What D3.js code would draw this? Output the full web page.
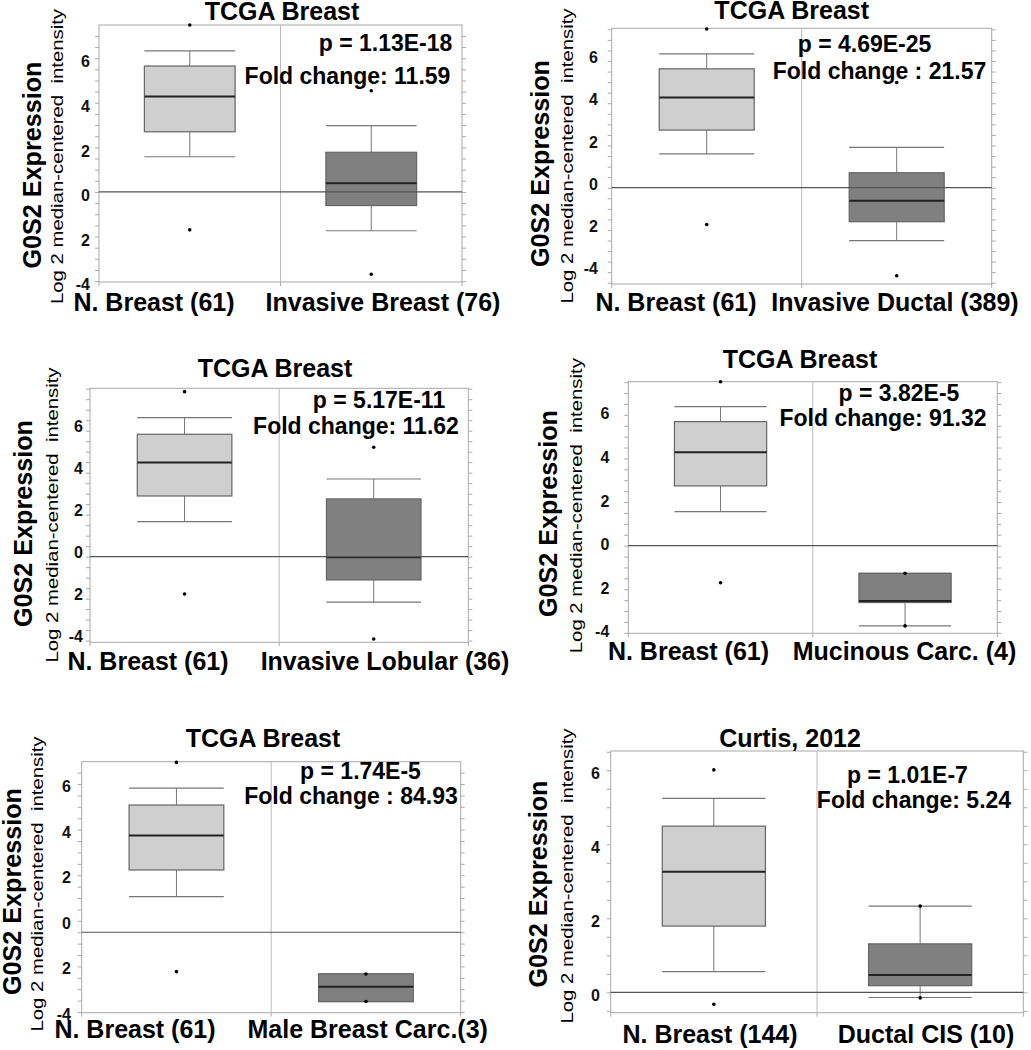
<!DOCTYPE html>
<html>
<head>
<meta charset="utf-8">
<script src="https://cdn.jsdelivr.net/npm/d3@7"></script>
<style>
  body { margin: 0; background: #fff; }
  svg { display: block; font-family: "Liberation Sans", Arial, sans-serif; }
</style>
</head>
<body>
<div id="chart"></div>
<script>
// data (log2 median-centered values)
var titles = ["TCGA Breast", "TCGA Breast", "TCGA Breast", "TCGA Breast", "TCGA Breast", "Curtis, 2012"];
var pTexts = ["p = 1.13E-18", "p = 4.69E-25", "p = 5.17E-11", "p = 3.82E-5", "p = 1.74E-5", "p = 1.01E-7"];
var foldTexts = ["Fold change: 11.59", "Fold change : 21.57", "Fold change: 11.62",
                 "Fold change: 91.32", "Fold change : 84.93", "Fold change: 5.24"];
var groupLabels = [
  ["N. Breast (61)", "Invasive Breast (76)"],
  ["N. Breast (61)", "Invasive Ductal (389)"],
  ["N. Breast (61)", "Invasive Lobular (36)"],
  ["N. Breast (61)", "Mucinous Carc. (4)"],
  ["N. Breast (61)", "Male Breast Carc.(3)"],
  ["N. Breast (144)", "Ductal CIS (10)"]
];
// [lower whisker, q1, median, q3, upper whisker]
var normalStats = [
  [1.58, 2.70, 4.28, 5.65, 6.33],
  [1.60, 2.73, 4.27, 5.63, 6.34],
  [1.67, 2.89, 4.48, 5.83, 6.62],
  [1.56, 2.74, 4.28, 5.69, 6.38],
  [1.56, 2.73, 4.24, 5.58, 6.32],
  [0.56, 1.79, 3.26, 4.49, 5.24]
];
var tumorStats = [
  [-1.74, -0.61, 0.39, 1.78, 2.98],
  [-2.51, -1.61, -0.62, 0.71, 1.91],
  [-2.17, -1.11, -0.03, 2.75, 3.70],
  [-3.68, -2.61, -2.54, -1.27, -1.27],
  [-3.04, -3.04, -2.39, -1.83, -1.83],
  [-0.14, 0.18, 0.47, 1.31, 2.33]
];
var normalOutliers = [[7.49, -1.70], [7.52, -1.74], [7.86, -1.78], [7.52, -1.70], [7.45, -1.73], [6.01, -0.32]];
var tumorOutliers = [[4.54, -3.69], [4.98, -4.17], [5.21, -3.92], [-1.27, -3.68], [-1.83, -3.04], [2.33, -0.15]];
var yDomains = [[-4.04, 7.49], [-4.56, 7.55], [-4.08, 8.02], [-4.02, 7.52], [-3.53, 7.48], [-0.55, 6.52]];
var tcgaTickValues = [6, 4, 2, 0, -2, -4];
var tcgaTickLabels = ["6", "4", "2", "0", "2", "-4"];
var curtisTickValues = [6, 4, 2, 0];
var curtisTickLabels = ["6", "4", "2", "0"];

// layout of each panel on the page
var panels = [
  {x0: 99, x1: 462, y0: 25, y1: 282, pad: 9, labelDy: 3.6,
   title: [282, 19.5], p: [385.5, 51], fold: [347.5, 84], yTitle: [32, 165], ySub: [57, 156.5], xLab: [[154, 311], [383, 311]]},
  {x0: 611.7, x1: 991.7, y0: 28.3, y1: 284, pad: 13.7, labelDy: -3.5,
   title: [791.7, 18.5], p: [864.5, 52], fold: [879.5, 79], yTitle: [540, 163.5], ySub: [567, 156], xLab: [[676, 311], [895, 311]]},
  {x0: 90, x1: 468.3, y0: 388.3, y1: 642.3, pad: 7, labelDy: -4,
   title: [275, 376.7], p: [379, 408], fold: [356, 434], yTitle: [23.3, 523.5], ySub: [51.7, 515], xLab: [[148, 670], [385, 670]]},
  {x0: 628.3, x1: 997.3, y0: 381.7, y1: 633.3, pad: 19, labelDy: -1,
   title: [800, 368.3], p: [899, 401], fold: [883, 425.5], yTitle: [548, 513.5], ySub: [576, 505.7], xLab: [[688.5, 660], [904.5, 660]]},
  {x0: 81.7, x1: 460.7, y0: 761.7, y1: 1012.7, pad: 10.7, labelDy: -9,
   title: [263, 746.7], p: [360.5, 779], fold: [351, 804], yTitle: [12.5, 891.5], ySub: [37, 884], xLab: [[135, 1038], [367.7, 1038]]},
  {x0: 610.7, x1: 1023.3, y0: 751, y1: 1012.7, pad: 10.7, labelDy: 3,
   title: [790, 746.7], p: [907.5, 783], fold: [914, 808], yTitle: [538, 884], ySub: [566.7, 876], xLab: [[710, 1043], [926, 1043]]}
];

var fills = ["#cfcfcf", "#808080"];

var svg = d3.select("#chart")
  .append("svg")
    .attr("width", 1031)
    .attr("height", 1050);

panels.forEach(function(pn, i) {
  var g = svg.append("g");

  var x = d3.scaleBand()
    .domain(groupLabels[i])
    .range([pn.x0, pn.x1]);
  var y = d3.scaleLinear()
    .domain(yDomains[i])
    .range([pn.y1, pn.y0]);

  var dom = yDomains[i];
  var minor = d3.range(Math.ceil(dom[0] * 2) / 2, dom[1] + 0.001, 0.5);

  // minor ticks left / right
  var left = g.append("g")
    .attr("transform", "translate(" + pn.x0 + ",0)")
    .call(d3.axisLeft(y).tickValues(minor).tickSize(4).tickFormat(""));
  var right = g.append("g")
    .attr("transform", "translate(" + pn.x1 + ",0)")
    .call(d3.axisRight(y).tickValues(minor).tickSize(4).tickFormat(""));
  [left, right].forEach(function(a) {
    a.select(".domain").remove();
    a.selectAll("line").attr("stroke", "#aaa");
  });

  // tick labels
  var tv = i === 5 ? curtisTickValues : tcgaTickValues;
  var tl = i === 5 ? curtisTickLabels : tcgaTickLabels;
  var lab = g.append("g")
    .attr("transform", "translate(" + (pn.x0 - pn.pad) + "," + pn.labelDy + ")")
    .call(d3.axisLeft(y).tickValues(tv).tickSize(0).tickPadding(0)
      .tickFormat(function(d) { return tl[tv.indexOf(d)]; }));
  lab.select(".domain").remove();
  lab.attr("font-size", null).attr("font-family", null);
  lab.selectAll("text")
    .style("font-size", "16px")
    .style("font-weight", "bold")
    .attr("fill", "#111");

  // bottom ticks at band edges
  var edges = [pn.x0, (pn.x0 + pn.x1) / 2, pn.x1];
  g.selectAll(".btick")
    .data(edges)
    .enter()
    .append("line")
      .attr("x1", function(d) { return d; })
      .attr("x2", function(d) { return d; })
      .attr("y1", pn.y1)
      .attr("y2", pn.y1 + 4)
      .attr("stroke", "#aaa");

  // frame
  g.append("rect")
    .attr("x", pn.x0)
    .attr("y", pn.y0)
    .attr("width", pn.x1 - pn.x0)
    .attr("height", pn.y1 - pn.y0)
    .attr("fill", "none")
    .attr("stroke", "#a8a8a8")
    .attr("stroke-width", 1);

  // divider between groups
  g.append("line")
    .attr("x1", (pn.x0 + pn.x1) / 2)
    .attr("x2", (pn.x0 + pn.x1) / 2)
    .attr("y1", pn.y0)
    .attr("y2", pn.y1)
    .attr("stroke", "#bbb");

  // boxes
  var stats = [normalStats[i], tumorStats[i]];
  var outs = [normalOutliers[i], tumorOutliers[i]];
  var bw = x.bandwidth() / 2;

  stats.forEach(function(s, j) {
    var cx = x(groupLabels[i][j]) + x.bandwidth() / 2;
    var bx = cx - bw / 2;
    // whisker stems
    g.append("line")
      .attr("x1", cx).attr("x2", cx)
      .attr("y1", y(s[4])).attr("y2", y(s[3]))
      .attr("stroke", "#777");
    g.append("line")
      .attr("x1", cx).attr("x2", cx)
      .attr("y1", y(s[1])).attr("y2", y(s[0]))
      .attr("stroke", "#777");
    // caps
    g.selectAll(".cap" + j)
      .data([s[0], s[4]])
      .enter()
      .append("line")
        .attr("x1", bx).attr("x2", bx + bw)
        .attr("y1", function(d) { return y(d); })
        .attr("y2", function(d) { return y(d); })
        .attr("stroke", "#777")
        .attr("stroke-width", 1.2);
    g.append("rect")
      .attr("x", bx)
      .attr("y", y(s[3]))
      .attr("width", bw)
      .attr("height", y(s[1]) - y(s[3]))
      .attr("fill", fills[j])
      .attr("stroke", "#666")
      .attr("stroke-width", 1.2);
    g.append("line")
      .attr("x1", bx).attr("x2", bx + bw)
      .attr("y1", y(s[2])).attr("y2", y(s[2]))
      .attr("stroke", "#222")
      .attr("stroke-width", 2);
    g.selectAll(".dot" + j)
      .data(outs[j])
      .enter()
      .append("circle")
        .attr("cx", cx)
        .attr("cy", function(d) { return y(d); })
        .attr("r", 1.8)
        .attr("fill", "#000");
  });

  // zero line
  g.append("line")
    .attr("x1", pn.x0)
    .attr("x2", pn.x1)
    .attr("y1", y(0))
    .attr("y2", y(0))
    .attr("stroke", "#555")
    .attr("stroke-width", 1.2);

  // title
  g.append("text")
    .attr("x", pn.title[0])
    .attr("y", pn.title[1])
    .attr("text-anchor", "middle")
    .style("font-size", "25px")
    .style("font-weight", "bold")
    .text(titles[i]);

  // p value and fold change
  g.append("text")
    .attr("x", pn.p[0])
    .attr("y", pn.p[1])
    .attr("text-anchor", "middle")
    .style("font-size", "23px")
    .style("font-weight", "bold")
    .text(pTexts[i]);
  g.append("text")
    .attr("x", pn.fold[0])
    .attr("y", pn.fold[1])
    .attr("text-anchor", "middle")
    .style("font-size", "23px")
    .style("font-weight", "bold")
    .text(foldTexts[i]);

  // y axis titles
  g.append("text")
    .attr("transform", "translate(" + pn.yTitle[0] + "," + pn.yTitle[1] + ") rotate(-90)")
    .attr("dy", "0.35em")
    .attr("text-anchor", "middle")
    .attr("textLength", 207)
    .attr("lengthAdjust", "spacingAndGlyphs")
    .style("font-size", "25px")
    .style("font-weight", "bold")
    .text("G0S2 Expression");
  g.append("text")
    .attr("transform", "translate(" + pn.ySub[0] + "," + pn.ySub[1] + ") rotate(-90)")
    .attr("dy", "0.35em")
    .attr("text-anchor", "middle")
    .attr("textLength", 295)
    .attr("lengthAdjust", "spacingAndGlyphs")
    .style("font-size", "17px")
    .style("white-space", "pre")
    .text("Log 2 median-centered  intensity");

  // group labels
  g.selectAll(".xlab")
    .data(groupLabels[i])
    .enter()
    .append("text")
      .attr("x", function(d, k) { return pn.xLab[k][0]; })
      .attr("y", function(d, k) { return pn.xLab[k][1]; })
      .attr("text-anchor", "middle")
      .style("font-size", "25px")
      .style("font-weight", "bold")
      .text(function(d) { return d; });
});
</script>
</body>
</html>
